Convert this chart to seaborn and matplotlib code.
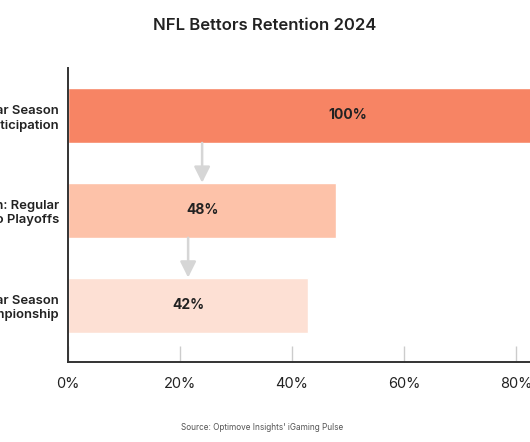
import matplotlib
matplotlib.use("Agg")
import matplotlib.pyplot as plt
import seaborn as sns
import pandas as pd

# ---- data ----
categories = [
    "Regular Season\nParticipation",
    "Retention: Regular\nSeason to Playoffs",
    "Regular Season\nto Championship",
]
values = [100, 47.9, 42.9]
value_labels = ["100%", "48%", "42%"]
bar_colors = ["#F78464", "#FDC2A9", "#FDE0D4"]
x_ticks = [0, 20, 40, 60, 80, 100]
x_tick_labels = ["0%", "20%", "40%", "60%", "80%", "100%"]
title = "NFL Bettors Retention 2024"
source = "Source: Optimove Insights' iGaming Pulse"

sns.set_theme(style="white")
plt.rcParams["font.family"] = ["Inter", "DejaVu Sans"]

fig = plt.figure(figsize=(5.30, 4.42), dpi=100)
W, H = 530, 442
x0, x100 = 68, 628
ytop, ybot = 68, 362
ax = fig.add_axes([x0 / W, 1 - ybot / H, (x100 - x0) / W, (ybot - ytop) / H])

df = pd.DataFrame({"cat": categories, "val": values})
sns.barplot(data=df, x="val", y="cat", hue="cat", palette=bar_colors,
            legend=False, width=0.58, ax=ax, orient="h", saturation=1)

ax.set_xlim(0, 100)
ax.set_ylim(2.6, -0.5)
ax.set_xlabel("")
ax.set_ylabel("")

ax.set_xticks(x_ticks)
ax.set_xticklabels(x_tick_labels, fontsize=10.5, color="#222222")
ax.tick_params(axis="x", direction="in", length=11.5, width=1,
               color="#cccccc", pad=11, bottom=True)
ax.tick_params(axis="y", length=0, pad=6.5)
for lab in ax.get_yticklabels():
    lab.set_fontsize(9.4)
    lab.set_fontweight("semibold")
    lab.set_color("#222222")
    lab.set_linespacing(1.3)

for s in ["top", "right"]:
    ax.spines[s].set_visible(False)
for s in ["left", "bottom"]:
    ax.spines[s].set_color("#333333")
    ax.spines[s].set_linewidth(1.4)

# value labels
for i, (v, lab) in enumerate(zip(values, value_labels)):
    ax.text(v / 2, i, lab, ha="center", va="center", fontsize=10,
            fontweight="bold", color="#222222")

# arrows between bars
for i in range(len(values) - 1):
    xa = values[i + 1] / 2
    ax.annotate("", xy=(xa, i + 1 - 0.29), xytext=(xa, i + 0.29),
                arrowprops=dict(arrowstyle="-|>,head_length=0.8,head_width=0.4",
                                color="#d6d6d6", lw=1.8, shrinkA=0, shrinkB=0))

fig.text(0.5, 1 - 26 / H, title, ha="center", va="center", fontsize=12,
         fontweight="semibold", color="#222222")
fig.text(262 / W, 1 - 427 / H, source, ha="center", va="center", fontsize=5.9,
         color="#555555")

fig.savefig("out.png", dpi=100)
